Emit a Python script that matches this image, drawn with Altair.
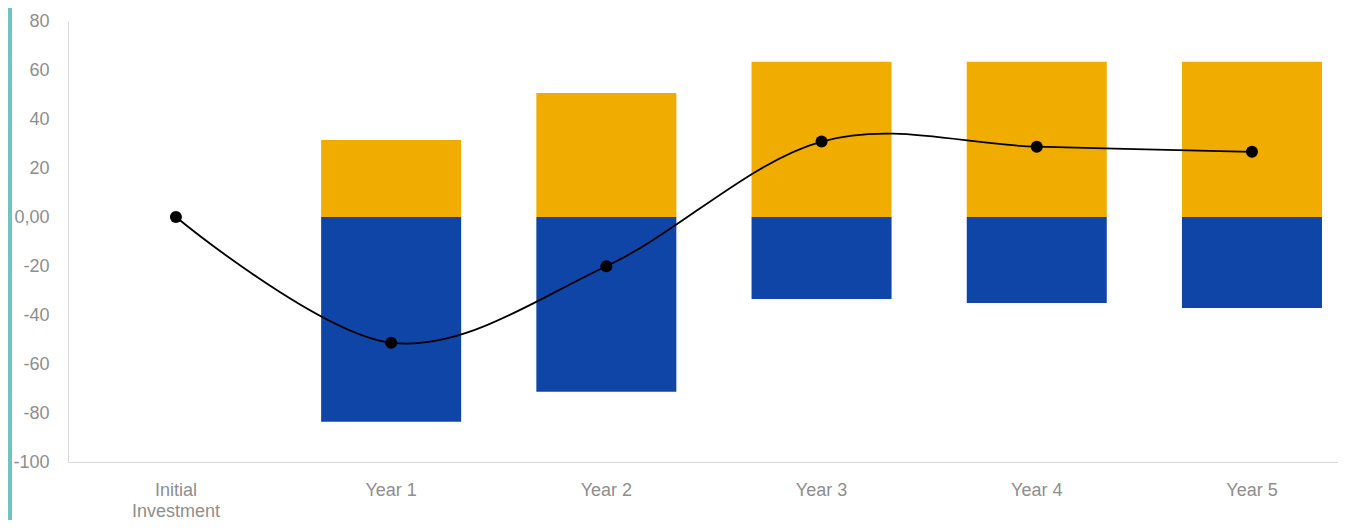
import altair as alt
import pandas as pd

categories = ["Initial Investment", "Year 1", "Year 2", "Year 3", "Year 4", "Year 5"]
inflows = [None, 31.4, 50.6, 63.4, 63.4, 63.4]
outflows = [None, -83.6, -71.3, -33.5, -35.1, -37.1]
net = [0.0, -51.3, -20.1, 30.8, 28.7, 26.6]
y_ticks = [-100, -80, -60, -40, -20, 0, 20, 40, 60, 80]

GOLD = "#F0AD00"
BLUE = "#1045A8"
LABEL = "#8e8e8e"
FONT = "Liberation Sans"

rows = []
for c, v in zip(categories, inflows):
    if v is not None:
        rows.append({"cat": c, "series": "Inflow", "value": v})
for c, v in zip(categories, outflows):
    if v is not None:
        rows.append({"cat": c, "series": "Outflow", "value": v})
bars_df = pd.DataFrame(rows)
net_df = pd.DataFrame({"cat": categories, "net": net})

x_enc = alt.X(
    "cat:N",
    sort=categories,
    scale=alt.Scale(paddingInner=0.3494, paddingOuter=0.1254, align=0.703),
    axis=alt.Axis(
        title=None,
        labelAngle=0,
        domainColor="#d9d9d9",
        ticks=False,
        tickSize=0,
        labelPadding=19,
        labelFontSize=18,
        labelFont=FONT,
        labelColor=LABEL,
        labelLineHeight=21,
        labelLimit=400,
        grid=False,
        labelExpr="datum.label == 'Initial Investment' ? ['Initial', 'Investment'] : datum.label",
    ),
)

y_scale = alt.Scale(domain=[-100, 80], nice=False)
y_axis = alt.Axis(
    title=None,
    values=y_ticks,
    domainColor="#d9d9d9",
    ticks=False,
    tickSize=0,
    labelPadding=19,
    labelFontSize=18,
    labelFont=FONT,
    labelColor=LABEL,
    grid=False,
    labelExpr="datum.value == 0 ? '0,00' : '' + datum.value",
)

bars = alt.Chart(bars_df).mark_bar().encode(
    x=x_enc,
    y=alt.Y("value:Q", scale=y_scale, axis=y_axis),
    y2=alt.datum(0),
    color=alt.Color("series:N", scale=alt.Scale(domain=["Inflow", "Outflow"], range=[GOLD, BLUE]), legend=None),
)

line = alt.Chart(net_df).mark_line(color="black", strokeWidth=1.8, interpolate="cardinal").encode(
    x=alt.X("cat:N", sort=categories),
    y=alt.Y("net:Q", scale=y_scale),
)

points = alt.Chart(net_df).mark_circle(color="black", size=145, opacity=1).encode(
    x=alt.X("cat:N", sort=categories),
    y=alt.Y("net:Q", scale=y_scale),
)

strip = alt.Chart(pd.DataFrame({"a": [0]})).mark_rect(color="#72C3BD").encode(
    x=alt.value(-60), x2=alt.value(-56), y=alt.value(-13), y2=alt.value(499)
)

chart = alt.layer(bars, line, points, strip).properties(
    width=1270,
    height=441,
    autosize=alt.AutoSizeParams(type="none"),
    padding={"left": 60, "top": 13, "right": 0, "bottom": 58},
).configure_view(stroke=None)

chart.save("out.html", embed_options={"renderer": "svg", "actions": False})
